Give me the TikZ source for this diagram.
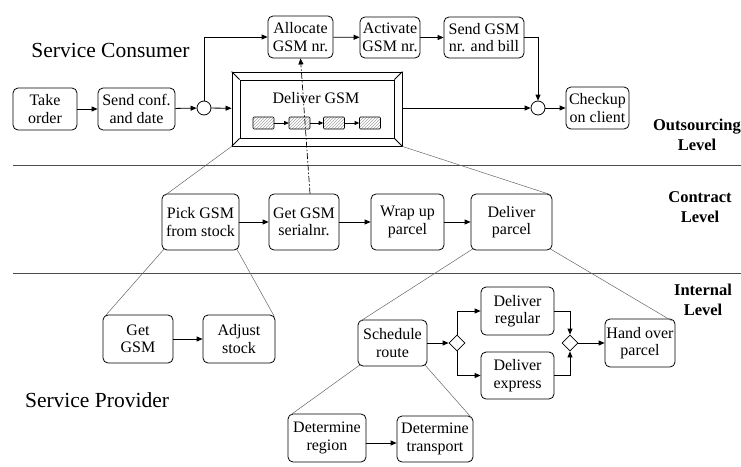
\documentclass[tikz,border=0pt]{standalone}
\usepackage{fontspec}
\setmainfont{Liberation Serif}
\usetikzlibrary{arrows.meta,patterns,shapes.geometric}

\tikzset{
  task/.style={draw, line width=0.8pt, rounded corners=5pt, align=center,
    inner sep=0pt, font=\fontsize{16}{17.5}\selectfont},
  gate/.style={draw, line width=0.8pt, circle, minimum size=14pt, inner sep=0pt},
  xorgate/.style={draw, line width=0.8pt, diamond, minimum size=16pt, inner sep=0pt},
  flow/.style={line width=0.8pt, -{Triangle[length=6pt,width=5pt]}},
  miniflow/.style={line width=0.7pt, -{Triangle[length=4.5pt,width=4pt]}},
  refine/.style={line width=0.5pt, gray!80!black},
  levelsep/.style={line width=1pt, gray!60!black},
  levellabel/.style={align=center, font=\fontsize{16.5}{20}\selectfont\bfseries},
  rolelabel/.style={font=\fontsize{21.5}{24}\selectfont},
  minitask/.style={draw, line width=0.6pt, rounded corners=1pt,
    pattern=north east lines, pattern color=gray!70,
    minimum width=21pt, minimum height=12pt, inner sep=0pt},
  frame/.style={draw, line width=0.9pt, inner sep=0pt}
}

\begin{document}
\begin{tikzpicture}[x=1pt,y=-1pt]
\useasboundingbox (0,0) rectangle (741,466);

% level separators
\draw[levelsep] (13,165) -- (741,165);
\draw[levelsep, line width=0.8pt] (13,273) -- (741,273);

% role and level labels
\node[rolelabel] (consumer) at (110.5,50) {Service Consumer};
\node[rolelabel] (provider) at (97,400) {Service Provider};
\node[levellabel] (lvout) at (697,135) {Outsourcing\\Level};
\node[levellabel] (lvcon) at (700,207) {Contract\\Level};
\node[levellabel] (lvint) at (703,300) {Internal\\Level};

% ---- outsourcing level ----
\node[task, minimum width=64pt, minimum height=42pt] (take) at (45,109) {Take\\order};
\node[task, minimum width=77pt, minimum height=42pt] (conf) at (136.5,109) {Send conf.\\and date};
\node[gate] (g1) at (204,108) {};
\node[task, minimum width=65pt, minimum height=42pt] (alloc) at (300.5,37) {Allocate\\GSM nr.};
\node[task, minimum width=60pt, minimum height=41pt] (activ) at (390,37.5) {Activate\\GSM nr.};
\node[task, minimum width=80pt, minimum height=41pt] (bill) at (484,37.5) {Send GSM\\nr. and bill};
\node[gate] (g2) at (538,108) {};
\node[task, minimum width=63pt, minimum height=42pt] (check) at (597.5,108) {Checkup\\on client};

% bevelled sub-process frame
\node[frame, minimum width=170pt, minimum height=74pt] (deliver) at (317,109) {};
\node[frame, minimum width=154pt, minimum height=58pt] (deliverin) at (317,109) {};
\draw[line width=0.8pt] (deliver.north west) -- (deliverin.north west);
\draw[line width=0.8pt] (deliver.north east) -- (deliverin.north east);
\draw[line width=0.8pt] (deliver.south west) -- (deliverin.south west);
\draw[line width=0.8pt] (deliver.south east) -- (deliverin.south east);
\node[font=\fontsize{16}{17.5}\selectfont] (delivertext) at (316,98) {Deliver GSM};
\node[minitask] (m1) at (263.5,123) {};
\node[minitask] (m2) at (299.5,123) {};
\node[minitask] (m3) at (334,123) {};
\node[minitask] (m4) at (370,123) {};
\draw[miniflow] (m1) -- (m2);
\draw[miniflow] (m2) -- (m3);
\draw[miniflow] (m3) -- (m4);

% outsourcing flows
\draw[flow] (take) -- (conf);
\draw[flow] (conf) -- (g1);
\draw[flow] (g1) -- (deliver);
\draw[flow] (g1.north) |- (alloc.west);
\draw[flow] (alloc) -- (activ);
\draw[flow] (activ) -- (bill);
\draw[flow] (bill.east) -| (g2.north);
\draw[flow] (deliver.east |- g2) -- (g2);
\draw[flow] (g2) -- (check);

% ---- contract level ----
\node[task, minimum width=77pt, minimum height=56pt] (pick) at (200.5,222) {Pick GSM\\from stock};
\node[task, minimum width=70pt, minimum height=56pt] (serial) at (304,222) {Get GSM\\serialnr.};
\node[task, minimum width=73pt, minimum height=56pt] (wrap) at (407.5,222) {Wrap up\\parcel};
\node[task, minimum width=81pt, minimum height=56pt] (dparcel) at (511.5,222) {Deliver\\parcel};
\draw[flow] (pick) -- (serial);
\draw[flow] (serial) -- (wrap);
\draw[flow] (wrap) -- (dparcel);

% message link from the serial number to the allocation
\draw[flow, line width=0.7pt, dash pattern=on 6pt off 2pt on 1.5pt off 2pt]
  ([xshift=6pt]serial.north) -- (alloc.south);

% ---- internal level ----
\node[task, minimum width=70pt, minimum height=48pt] (getgsm) at (138,339) {Get\\GSM};
\node[task, minimum width=72pt, minimum height=48pt] (adjust) at (239,339) {Adjust\\stock};
\node[task, minimum width=69pt, minimum height=46pt] (sched) at (392.5,343) {Schedule\\route};
\node[xorgate] (x1) at (457,343) {};
\node[task, minimum width=73pt, minimum height=48pt] (regular) at (517.5,311) {Deliver\\regular};
\node[task, minimum width=73pt, minimum height=47pt] (express) at (517.5,375.5) {Deliver\\express};
\node[xorgate] (x2) at (570,343) {};
\node[task, minimum width=70pt, minimum height=48pt] (hand) at (640,343) {Hand over\\parcel};
\node[task, minimum width=78pt, minimum height=48pt] (region) at (327,438) {Determine\\region};
\node[task, minimum width=76pt, minimum height=46pt] (transport) at (435,439) {Determine\\transport};

\draw[flow] (getgsm) -- (adjust);
\draw[flow] (sched) -- (x1);
\draw[flow] (x1.north) |- (regular.west);
\draw[flow] (x1.south) |- (express.west);
\draw[flow] (regular.east) -| (x2.north);
\draw[flow] (express.east) -| (x2.south);
\draw[flow] (x2) -- (hand);
\draw[flow] (region.east |- 0,443) -- (transport.west |- 0,443);

% ---- refinement lines between levels ----
\draw[refine] (deliver.south west) -- ([shift={(3pt,-2pt)}]pick.north west);
\draw[refine] (deliver.south east) -- ([shift={(-2pt,-1pt)}]dparcel.north east);
\draw[refine] ([shift={(3pt,2pt)}]pick.south west) -- ([shift={(2pt,-2pt)}]getgsm.north west);
\draw[refine] ([shift={(-3pt,2pt)}]pick.south east) -- ([shift={(-1pt,-2pt)}]adjust.north east);
\draw[refine] ([shift={(3pt,2pt)}]dparcel.south west) -- ([shift={(2pt,-2pt)}]sched.north west);
\draw[refine] ([shift={(-3pt,2pt)}]dparcel.south east) -- ([shift={(-4pt,-2pt)}]hand.north east);
\draw[refine] ([shift={(3pt,2pt)}]sched.south west) -- ([shift={(2pt,-2pt)}]region.north west);
\draw[refine] ([shift={(-3pt,2pt)}]sched.south east) -- ([shift={(-2pt,-2pt)}]transport.north east);
\end{tikzpicture}
\end{document}
